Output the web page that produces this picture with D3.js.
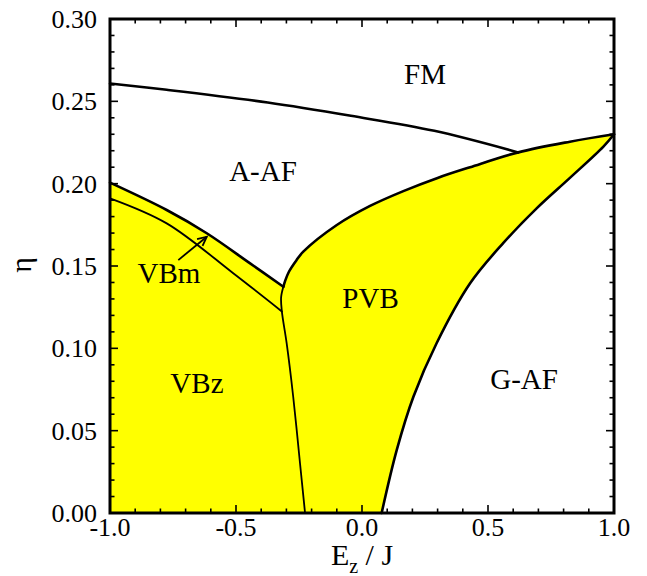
<!DOCTYPE html>
<html>
<head>
<meta charset="utf-8">
<script src="https://cdn.jsdelivr.net/npm/d3@7"></script>
<style>
  html, body { margin: 0; padding: 0; background: #fff; }
  svg { display: block; }
  text { font-family: "Liberation Serif", "Times New Roman", Times, serif; fill: #000; }
</style>
</head>
<body>
<svg id="chart" width="647" height="576"></svg>
<script>
// ---- Data (E_z/J, eta) ----
const xTicks = [-1.0, -0.5, 0.0, 0.5, 1.0];
const xTickLabels = ["-1.0", "-0.5", "0.0", "0.5", "1.0"];
const yTicks = [0.00, 0.05, 0.10, 0.15, 0.20, 0.25, 0.30];
const yTickLabels = ["0.00", "0.05", "0.10", "0.15", "0.20", "0.25", "0.30"];

// FM / A-AF boundary
const fmX   = [-1.0, -0.775, -0.374, -0.044, 0.287, 0.620];
const fmEta = [0.2608, 0.2570, 0.2493, 0.2412, 0.2321, 0.2190];

// Upper boundary of PVB (from cusp to E_z = 1)
const pvbUpX   = [-0.312, -0.305, -0.290, -0.260, -0.233, -0.100, 0.032, 0.164, 0.300, 0.429, 0.620, 0.825, 1.000];
const pvbUpEta = [0.1374, 0.1410, 0.1465, 0.1535, 0.1587, 0.1749, 0.1865, 0.1955, 0.2035, 0.2100, 0.2190, 0.2255, 0.2300];

// Lower boundary of PVB (PVB / G-AF)
const pvbLowX   = [0.078, 0.138, 0.204, 0.296, 0.429, 0.561, 0.693, 0.825, 0.958, 1.000];
const pvbLowEta = [0.000, 0.0383, 0.0706, 0.1031, 0.1395, 0.1640, 0.1850, 0.2035, 0.2225, 0.2300];

// VBm upper boundary (VBm / A-AF)
const vbmUpX   = [-1.0, -0.775, -0.616, -0.444, -0.312];
const vbmUpEta = [0.2006, 0.1840, 0.1699, 0.1516, 0.1374];

// VBm lower boundary (VBz / VBm)
const vbmLowX   = [-1.0, -0.775, -0.511, -0.318];
const vbmLowEta = [0.1911, 0.1759, 0.1456, 0.1224];

// VBz / PVB boundary (cusp down to eta = 0)
const vbzX   = [-0.312, -0.321, -0.318, -0.299, -0.273, -0.246, -0.226];
const vbzEta = [0.1374, 0.1310, 0.1224, 0.1031, 0.0706, 0.0302, 0.0000];

// Arrow pointing at VBm strip
const arrowX   = [-0.729, -0.616];
const arrowEta = [0.1536, 0.1678];

// Region labels
const regionNames = ["FM", "A-AF", "VBm", "PVB", "VBz", "G-AF"];
const regionX     = [0.250, -0.393, -0.766, 0.034, -0.655, 0.643];
const regionEta   = [0.2605, 0.2016, 0.1395, 0.1243, 0.0729, 0.0753];

// ---- Layout ----
const svg = d3.select("#chart");
const pLeft = 110, pRight = 614, pTop = 19, pBottom = 513;
const x = d3.scaleLinear().domain([-1, 1]).range([pLeft, pRight]);
const y = d3.scaleLinear().domain([0, 0.30]).range([pBottom, pTop]);

const zip = (xs, ys) => xs.map((v, i) => [v, ys[i]]);
const line = d3.line().x(d => x(d[0])).y(d => y(d[1])).curve(d3.curveCatmullRom.alpha(0.5));

// Yellow region
const fillPath = [
  line(zip(vbmUpX, vbmUpEta)),
  line(zip(pvbUpX, pvbUpEta)).replace(/^M/, "L"),
  line(zip(pvbLowX, pvbLowEta).reverse()).replace(/^M/, "L"),
  `L${x(-1)},${y(0)}Z`
].join("");
svg.append("path").attr("d", fillPath).attr("fill", "#ffff00").attr("stroke", "none");

// Boundary lines
const thick = 2.6, thin = 1.8;
[[fmX, fmEta, thick], [pvbUpX, pvbUpEta, thick], [pvbLowX, pvbLowEta, thick],
 [vbmUpX, vbmUpEta, thick], [vbmLowX, vbmLowEta, thin], [vbzX, vbzEta, thin]]
  .forEach(([xs, ys, w]) => {
    svg.append("path").attr("d", line(zip(xs, ys)))
      .attr("fill", "none").attr("stroke", "#000").attr("stroke-width", w)
      .attr("stroke-linejoin", "round").attr("stroke-linecap", "round");
  });

// Arrow
{
  const x0 = x(arrowX[0]), y0 = y(arrowEta[0]), x1 = x(arrowX[1]), y1 = y(arrowEta[1]);
  svg.append("line").attr("x1", x0).attr("y1", y0).attr("x2", x1).attr("y2", y1)
    .attr("stroke", "#000").attr("stroke-width", 1.8);
  const ang = Math.atan2(y1 - y0, x1 - x0), L = 10, spread = 0.45;
  const p1 = [x1 - L * Math.cos(ang - spread), y1 - L * Math.sin(ang - spread)];
  const p2 = [x1 - L * Math.cos(ang + spread), y1 - L * Math.sin(ang + spread)];
  svg.append("path").attr("d", `M${p1[0]},${p1[1]}L${x1},${y1}L${p2[0]},${p2[1]}`)
    .attr("fill", "none").attr("stroke", "#000").attr("stroke-width", 1.8);
}

// Ticks (inward on all sides)
const majorLen = 8, minorLen = 4.5;
const tickG = svg.append("g").attr("stroke", "#000").attr("stroke-width", 1.6);
d3.range(0, 21).map(i => -1 + i * 0.1).forEach((v, i) => {
  const L = (i % 5 === 0) ? majorLen : minorLen;
  tickG.append("line").attr("x1", x(v)).attr("x2", x(v)).attr("y1", pBottom).attr("y2", pBottom - L);
  tickG.append("line").attr("x1", x(v)).attr("x2", x(v)).attr("y1", pTop).attr("y2", pTop + L);
});
d3.range(0, 31).map(i => i * 0.01).forEach((v, i) => {
  const L = (i % 5 === 0) ? majorLen : minorLen;
  tickG.append("line").attr("y1", y(v)).attr("y2", y(v)).attr("x1", pLeft).attr("x2", pLeft + L);
  tickG.append("line").attr("y1", y(v)).attr("y2", y(v)).attr("x1", pRight).attr("x2", pRight - L);
});

// Frame
svg.append("rect").attr("x", pLeft).attr("y", pTop).attr("width", pRight - pLeft).attr("height", pBottom - pTop)
  .attr("fill", "none").attr("stroke", "#000").attr("stroke-width", 3);

// Tick labels
xTicks.forEach((v, i) => {
  svg.append("text").attr("x", x(v)).attr("y", pBottom + 23).attr("text-anchor", "middle")
    .attr("font-size", 26).text(xTickLabels[i]);
});
yTicks.forEach((v, i) => {
  svg.append("text").attr("x", 97).attr("y", y(v) + 9).attr("text-anchor", "end")
    .attr("font-size", 26).text(yTickLabels[i]);
});

// Axis titles
const xt = svg.append("text").attr("x", 362).attr("y", 565).attr("text-anchor", "middle").attr("font-size", 30);
xt.append("tspan").text("E");
xt.append("tspan").attr("font-size", 20).attr("dy", 8).text("z");
xt.append("tspan").attr("dy", -8).text(" / J");

svg.append("text").attr("transform", "translate(31,265) rotate(-90)").attr("text-anchor", "middle")
  .attr("font-size", 30).text("η");

// Region labels
regionNames.forEach((n, i) => {
  svg.append("text").attr("x", x(regionX[i])).attr("y", y(regionEta[i])).attr("text-anchor", "middle")
    .attr("font-size", 29).text(n);
});
</script>
</body>
</html>
